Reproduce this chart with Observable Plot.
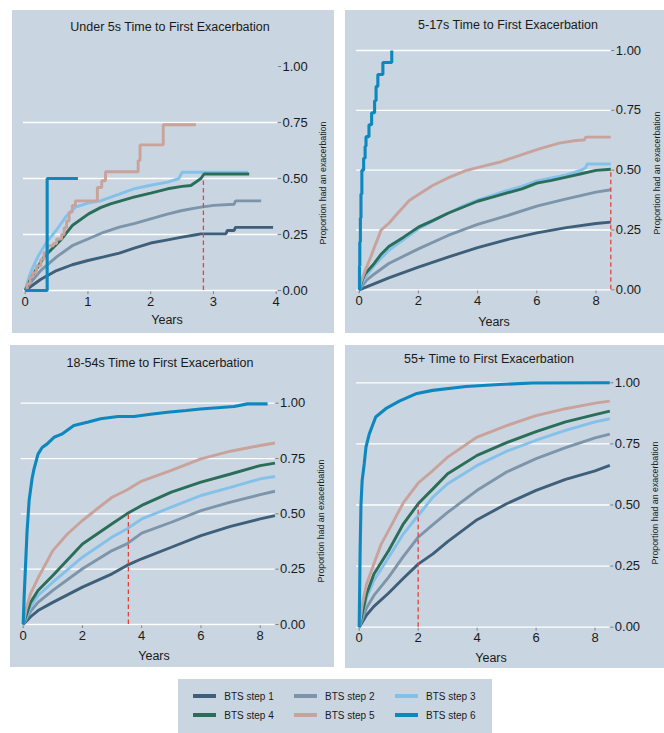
<!DOCTYPE html>
<html>
<head>
<meta charset="utf-8">
<script src="https://cdn.jsdelivr.net/npm/d3@7"></script>
<script src="https://cdn.jsdelivr.net/npm/@observablehq/plot@0.6"></script>
<style>
  html, body { margin: 0; padding: 0; background: #fff; }
  body { font-family: "Liberation Sans", Arial, sans-serif; color: #1a1a1a; }
  #root { position: relative; width: 664px; height: 733px; overflow: hidden; background: #fff; }
  .panel { position: absolute; background: #c9d5e0; }
  .panel svg { position: absolute; left: 0; top: 0; overflow: visible; }
  .ptitle { position: absolute; font-size: 12.5px; white-space: nowrap; transform: translate(-50%, -50%); color: #1a1a1a; }
  .xtitle { position: absolute; font-size: 12.5px; white-space: nowrap; transform: translate(-50%, -50%); color: #1a1a1a; }
  .ytitle { position: absolute; font-size: 8.8px; white-space: nowrap; transform: translate(-50%, -50%) rotate(-90deg); color: #1a1a1a; }
  g[aria-label="x-axis tick"], g[aria-label="y-axis tick"] { stroke: #808080; }
  g[aria-label="x-axis"] .tick line, g[aria-label="y-axis"] .tick line { stroke: #808080; }
  #legend { position: absolute; left: 178px; top: 679px; width: 314px; height: 54px; background: #c9d5e0; }
  .lsw { position: absolute; width: 23px; height: 4px; }
  .ltx { position: absolute; font-size: 10px; white-space: nowrap; transform: translateY(-50%); color: #1a1a1a; }
</style>
</head>
<body>
<div id="root"></div>
<script>
// ---------- data ----------
const stepNames = ["BTS step 1", "BTS step 2", "BTS step 3", "BTS step 4", "BTS step 5", "BTS step 6"];
const stepColors = ["#3e5f7a", "#7d95ab", "#84c1ea", "#2a6e5a", "#c9a39b", "#0c88bf"];
const panelTitles = ["Under 5s Time to First Exacerbation", "5-17s Time to First Exacerbation",
                     "18-54s Time to First Exacerbation", "55+ Time to First Exacerbation"];
const medianYears = [2.84, 8.5, 3.55, 2.0];
const yTicks = [0, 0.25, 0.5, 0.75, 1];
const xTicksUnder5 = [0, 1, 2, 3, 4];
const xTicksOther = [0, 2, 4, 6, 8];

// Under 5s
const u5_s1 = [[0,0],[0.1,0.02],[0.25,0.05],[0.5,0.089],[0.75,0.115],[1.0,0.134],[1.25,0.15],[1.5,0.167],[1.75,0.19],[2.0,0.212],[2.25,0.225],[2.5,0.238],[2.7,0.248],[2.8,0.253],[3.2,0.253],[3.22,0.268],[3.33,0.268],[3.35,0.282],[3.95,0.282]];
const u5_s2 = [[0,0],[0.1,0.04],[0.25,0.09],[0.5,0.15],[0.75,0.2],[1.0,0.23],[1.25,0.26],[1.5,0.283],[1.75,0.3],[2.0,0.32],[2.25,0.34],[2.5,0.357],[2.75,0.37],[3.0,0.38],[3.33,0.385],[3.35,0.40],[3.76,0.40]];
const u5_s3 = [[0,0],[0.05,0.05],[0.1,0.09],[0.2,0.15],[0.35,0.22],[0.5,0.27],[0.65,0.33],[0.8,0.372],[1.0,0.39],[1.2,0.40],[1.5,0.43],[1.73,0.454],[2.0,0.47],[2.27,0.484],[2.45,0.5],[2.5,0.528],[3.55,0.528]];
const u5_s4 = [[0,0],[0.1,0.06],[0.3,0.15],[0.56,0.223],[0.75,0.29],[1.01,0.342],[1.2,0.37],[1.36,0.387],[1.73,0.417],[2.0,0.435],[2.27,0.454],[2.5,0.465],[2.64,0.469],[2.75,0.49],[2.8,0.5],[2.85,0.52],[3.57,0.52]];
const u5_s5 = [[0,0],[0.03,0.03],[0.08,0.06],[0.12,0.08],[0.18,0.11],[0.25,0.14],[0.3,0.17],[0.35,0.2],[0.45,0.21],[0.5,0.23],[0.58,0.25],[0.62,0.28],[0.66,0.31],[0.7,0.35],[0.75,0.38],[0.8,0.4],[1.15,0.46],[1.22,0.49],[1.28,0.53],[1.8,0.58],[1.83,0.65],[2.2,0.74],[2.72,0.74]];
const u5_s6 = [[0,0],[0.35,0.5],[0.84,0.5]];

// 5-17s
const k_s1 = [[0,0],[0.5,0.025],[1,0.05],[2,0.095],[3,0.137],[4,0.176],[5,0.21],[6,0.238],[7,0.26],[8,0.277],[8.5,0.283]];
const k_s2 = [[0,0],[0.25,0.04],[0.5,0.065],[1,0.11],[2,0.171],[3,0.227],[4,0.273],[5,0.31],[6,0.35],[7,0.38],[8,0.408],[8.5,0.418]];
const k_s3 = [[0,0],[0.1,0.03],[0.25,0.06],[0.5,0.1],[1,0.165],[1.5,0.21],[2,0.255],[3,0.32],[3.5,0.35],[4,0.375],[4.5,0.395],[5,0.415],[5.5,0.432],[6,0.455],[6.5,0.468],[7,0.48],[7.5,0.5],[7.65,0.51],[7.7,0.526],[8.5,0.526]];
const k_s4 = [[0,0],[0.1,0.04],[0.2,0.067],[0.5,0.109],[0.75,0.15],[1,0.181],[1.5,0.22],[2,0.262],[2.5,0.29],[3,0.32],[3.5,0.345],[4,0.37],[4.5,0.387],[5,0.405],[5.5,0.422],[6,0.446],[6.5,0.457],[7,0.471],[7.5,0.485],[8,0.499],[8.5,0.504]];
const k_s5 = [[0,0],[0.05,0.03],[0.2,0.08],[0.4,0.14],[0.55,0.19],[0.65,0.22],[0.73,0.248],[1.01,0.279],[1.3,0.32],[1.69,0.373],[2.03,0.4],[2.48,0.436],[3.04,0.47],[3.6,0.498],[4.06,0.513],[4.73,0.533],[5.4,0.561],[6.08,0.589],[6.76,0.613],[7.32,0.624],[7.6,0.626],[7.66,0.638],[8.5,0.638]];
const k_s6 = [[0,0],[0.01,0.1],[0.02,0.2],[0.04,0.3],[0.06,0.4],[0.09,0.5],[0.15,0.55],[0.2,0.6],[0.23,0.64],[0.33,0.69],[0.42,0.74],[0.52,0.79],[0.57,0.85],[0.63,0.9],[0.8,0.95],[1.1,1.0]];

// 18-54s
const a_s1 = [[0,0],[0.25,0.035],[0.5,0.063],[1,0.1],[2,0.169],[3,0.229],[3.5,0.267],[4,0.297],[5,0.349],[6,0.402],[7,0.443],[8,0.477],[8.5,0.492]];
const a_s2 = [[0,0],[0.25,0.06],[0.5,0.1],[1,0.154],[2,0.252],[3,0.334],[3.5,0.364],[4,0.413],[5,0.462],[6,0.515],[7,0.553],[8,0.587],[8.5,0.602]];
const a_s3 = [[0,0],[0.25,0.08],[0.5,0.131],[1,0.191],[2,0.304],[3,0.395],[3.5,0.432],[4,0.477],[5,0.53],[6,0.583],[7,0.62],[8,0.658],[8.5,0.669]];
const a_s4 = [[0,0],[0.25,0.1],[0.5,0.154],[1,0.221],[2,0.364],[3,0.455],[3.5,0.5],[4,0.538],[5,0.598],[6,0.643],[7,0.68],[8,0.718],[8.5,0.729]];
const a_s5 = [[0,0],[0.1,0.07],[0.25,0.14],[0.5,0.21],[1,0.334],[1.5,0.41],[2,0.47],[2.5,0.523],[3,0.575],[3.5,0.608],[4,0.648],[5,0.696],[6,0.748],[7,0.783],[8,0.809],[8.5,0.82]];
const a_s6 = [[0,0],[0.03,0.12],[0.08,0.27],[0.13,0.42],[0.2,0.56],[0.3,0.66],[0.36,0.7],[0.5,0.77],[0.64,0.8],[0.8,0.815],[1.04,0.846],[1.3,0.86],[1.71,0.899],[2.2,0.915],[2.61,0.93],[3.2,0.94],[3.74,0.94],[4.3,0.95],[4.87,0.959],[5.5,0.967],[5.99,0.974],[7.12,0.985],[7.57,0.997],[8.25,0.997]];

// 55+
const o_s1 = [[0,0],[0.25,0.05],[0.5,0.085],[1,0.14],[1.5,0.2],[2,0.258],[2.5,0.3],[3,0.35],[4,0.44],[5,0.505],[6,0.56],[7,0.605],[8,0.64],[8.5,0.662]];
const o_s2 = [[0,0],[0.25,0.08],[0.5,0.13],[1,0.205],[1.5,0.29],[2,0.368],[2.5,0.42],[3,0.47],[4,0.56],[5,0.635],[6,0.69],[7,0.735],[8,0.775],[8.5,0.79]];
const o_s3 = [[0,0],[0.25,0.12],[0.5,0.191],[1,0.286],[1.5,0.382],[2,0.457],[2.5,0.532],[3,0.587],[4,0.662],[5,0.72],[6,0.765],[7,0.805],[8,0.84],[8.5,0.853]];
const o_s4 = [[0,0],[0.25,0.136],[0.5,0.218],[1,0.314],[1.5,0.423],[2,0.505],[2.5,0.566],[3,0.628],[4,0.703],[5,0.755],[6,0.8],[7,0.84],[8,0.87],[8.5,0.884]];
const o_s5 = [[0,0],[0.1,0.09],[0.25,0.177],[0.5,0.26],[0.75,0.341],[1,0.396],[1.5,0.51],[2,0.59],[2.5,0.641],[3,0.696],[4,0.778],[5,0.825],[6,0.866],[7,0.894],[8,0.917],[8.5,0.925]];
const o_s6 = [[0,0],[0.03,0.3],[0.06,0.5],[0.1,0.6],[0.17,0.668],[0.23,0.737],[0.34,0.79],[0.56,0.86],[0.9,0.894],[1.36,0.925],[1.92,0.955],[2.49,0.969],[3.62,0.985],[4.75,0.993],[5.88,0.999],[8.5,1.0]];

// ---------- layout (not data) ----------
const panels = [
  { series: [u5_s1,u5_s2,u5_s3,u5_s4,u5_s5,u5_s6], stepped: [false,false,false,false,true,true],
    left: 12, top: 10, w: 322, h: 323, mL: 11, mR: 57, mT: 56, mB: 43, xmax: 4, xticks: xTicksUnder5,
    insL: 1.7, insR: 1.3, grid: [0,0.25,0.5,0.75], tx: 158, ty: 17, yx: 155, yy: 310, ax: 311, ay: 173 },
  { series: [k_s1,k_s2,k_s3,k_s4,k_s5,k_s6], stepped: [false,false,false,false,false,true],
    left: 345, top: 10, w: 319, h: 323, mL: 11, mR: 53.7, mT: 40, mB: 43.7, xmax: 8.5, xticks: xTicksOther,
    insL: 2.7, insR: 0, grid: yTicks, tx: 163, ty: 15, yx: 149, yy: 312, ax: 312, ay: 162.5 },
  { series: [a_s1,a_s2,a_s3,a_s4,a_s5,a_s6], stepped: [false,false,false,false,false,false],
    left: 10, top: 345, w: 324, h: 322, mL: 10.7, mR: 59.5, mT: 57.7, mB: 43, xmax: 8.5, xticks: xTicksOther,
    insL: 2, insR: 0, grid: yTicks, tx: 150, ty: 18, yx: 144, yy: 311, ax: 310.7, ay: 175.8 },
  { series: [o_s1,o_s2,o_s3,o_s4,o_s5,o_s6], stepped: [false,false,false,false,false,false],
    left: 345, top: 345, w: 319, h: 323, mL: 11, mR: 54.7, mT: 37.3, mB: 41.3, xmax: 8.5, xticks: xTicksOther,
    insL: 2.7, insR: 0, grid: yTicks, tx: 144, ty: 14, yx: 146, yy: 313, ax: 309.7, ay: 158.3 }
];

const root = document.getElementById("root");

panels.forEach((p, pi) => {
  const div = document.createElement("div");
  div.className = "panel";
  div.style.left = p.left + "px"; div.style.top = p.top + "px";
  div.style.width = p.w + "px"; div.style.height = p.h + "px";

  const marks = [
    Plot.ruleY(p.grid, { stroke: "#ffffff", strokeWidth: 1.3 }),
    ...p.series.map((s, i) => Plot.line(s, {
      x: d => d[0], y: d => d[1],
      stroke: stepColors[i], strokeWidth: i === 5 ? 3.1 : 2.9,
      curve: p.stepped[i] ? "step-after" : "linear",
      strokeLinejoin: "miter", strokeLinecap: "butt"
    })),
    Plot.ruleX([medianYears[pi]], { y1: 0, y2: 0.5, stroke: "#e8423d", strokeWidth: 1.3, strokeDasharray: "4.5,3" })
  ];

  const svg = Plot.plot({
    width: p.w, height: p.h,
    marginLeft: p.mL, marginRight: p.mR, marginTop: p.mT, marginBottom: p.mB,
    style: { background: "transparent", fontFamily: "'Liberation Sans', Arial, sans-serif", fontSize: "13px", color: "#1a1a1a", overflow: "visible" },
    x: { domain: [0, p.xmax], ticks: p.xticks, tickFormat: d => String(d), tickSize: 4, tickPadding: 2,
         label: null, insetLeft: p.insL, insetRight: p.insR },
    y: { domain: [0, 1], axis: "right", ticks: yTicks, tickFormat: d => d.toFixed(2), tickSize: 3, tickPadding: 2, label: null },
    marks
  });
  div.appendChild(svg);

  const t = document.createElement("div");
  t.className = "ptitle"; t.textContent = panelTitles[pi];
  t.style.left = p.tx + "px"; t.style.top = p.ty + "px";
  div.appendChild(t);

  const xt = document.createElement("div");
  xt.className = "xtitle"; xt.textContent = "Years";
  xt.style.left = p.yx + "px"; xt.style.top = p.yy + "px";
  div.appendChild(xt);

  const yt = document.createElement("div");
  yt.className = "ytitle"; yt.textContent = "Proportion had an exacerbation";
  yt.style.left = p.ax + "px"; yt.style.top = p.ay + "px";
  div.appendChild(yt);

  root.appendChild(div);
});

// legend
const legend = document.createElement("div");
legend.id = "legend";
const colX = [15.3, 116, 217];
const rowY = [17, 36];
stepNames.forEach((name, i) => {
  const c = i % 3, r = Math.floor(i / 3);
  const sw = document.createElement("div");
  sw.className = "lsw";
  sw.style.left = colX[c] + "px"; sw.style.top = (rowY[r] - 2) + "px";
  sw.style.background = stepColors[i];
  legend.appendChild(sw);
  const tx = document.createElement("div");
  tx.className = "ltx"; tx.textContent = name;
  tx.style.left = (colX[c] + 31) + "px"; tx.style.top = rowY[r] + "px";
  legend.appendChild(tx);
});
root.appendChild(legend);
</script>
</body>
</html>
